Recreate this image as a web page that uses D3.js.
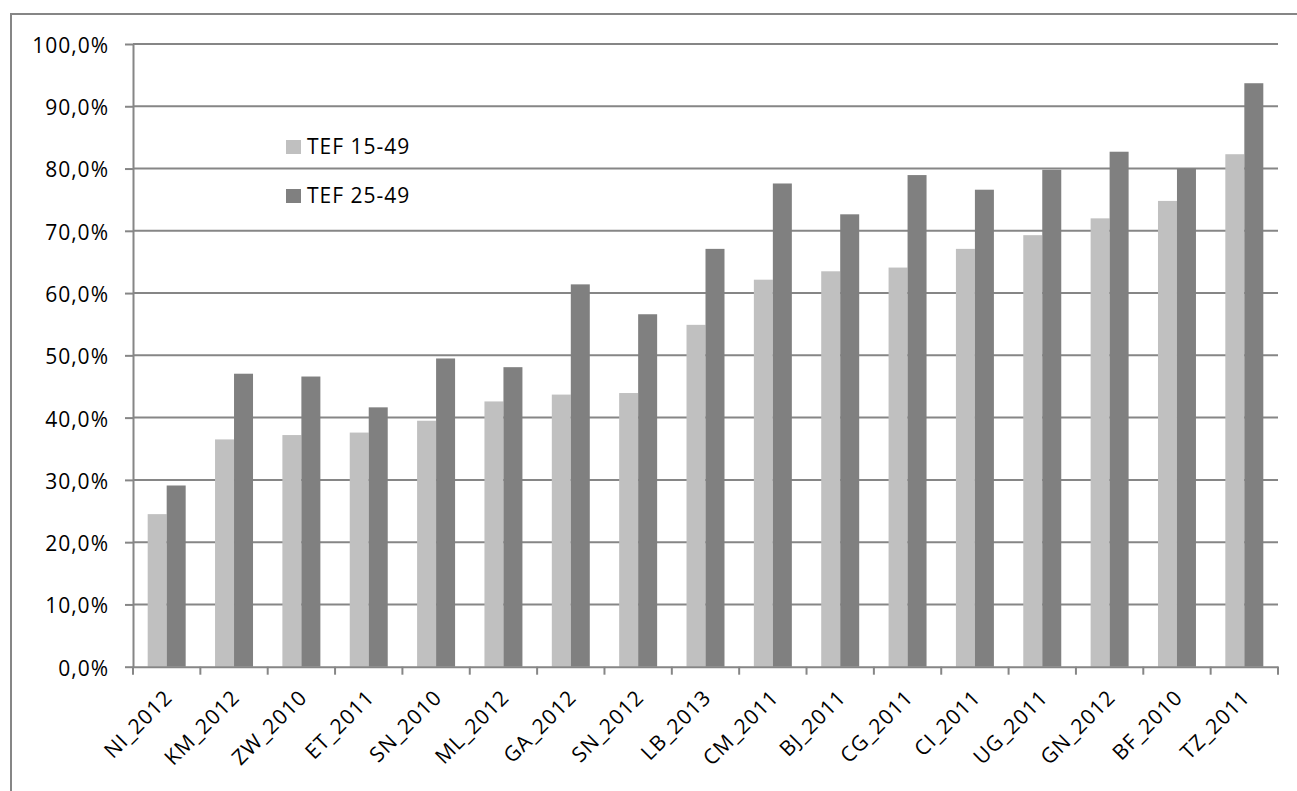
<!DOCTYPE html>
<html>
<head>
<meta charset="utf-8">
<script src="https://cdn.jsdelivr.net/npm/d3@7"></script>
<style>
  html, body { margin: 0; padding: 0; background: #fff; }
  svg text { font-family: 'Open Sans', sans-serif; fill: #000; }
</style>
</head>
<body>
<div id="chart"></div>
<script>
// TEF by survey, two age groups
const categories = ['NI_2012','KM_2012','ZW_2010','ET_2011','SN_2010','ML_2012','GA_2012','SN_2012','LB_2013',
  'CM_2011','BJ_2011','CG_2011','CI_2011','UG_2011','GN_2012','BF_2010','TZ_2011'];
const tef1549 = [24.5, 36.5, 37.2, 37.6, 39.5, 42.6, 43.7, 43.95, 54.9, 62.15, 63.5, 64.1, 67.1, 69.3, 72.0, 74.8, 82.3];
const tef2549 = [29.1, 47.05, 46.6, 41.65, 49.5, 48.1, 61.4, 56.6, 67.1, 77.6, 72.65, 78.95, 76.6, 79.8, 82.7, 80.0, 93.7];
const seriesNames = ['TEF 15-49', 'TEF 25-49'];
const yTicks = [0, 10, 20, 30, 40, 50, 60, 70, 80, 90, 100];

(function() {
  const W = 1297, H = 791;
  const L = 133, R = 1278, T = 44, B = 666.7;
  const C = ['#c0c0c0', '#808080'];
  const lineC = '#868686';
  const fs = '21px', ls = '1px';
  const fmt = v => v.toFixed(1).replace('.', ',') + '%';

  const svg = d3.select('#chart').append('svg').attr('width', W).attr('height', H);

  // chart area border (runs off right/bottom)
  svg.append('rect').attr('x', 11).attr('y', 14).attr('width', 1400).attr('height', 900)
    .attr('fill', 'none').attr('stroke', lineC).attr('stroke-width', 2);

  const x = d3.scaleBand().domain(categories).range([L, R]).paddingInner(0.436).paddingOuter(0.218);
  const xs = d3.scaleBand().domain(seriesNames).range([0, x.bandwidth()]);
  const y = d3.scaleLinear().domain([0, 100]).range([B, T]);

  // gridlines
  svg.append('g').selectAll('line').data(yTicks.filter(d => d > 0)).join('line')
    .attr('x1', L).attr('x2', R).attr('y1', d => y(d)).attr('y2', d => y(d))
    .attr('stroke', lineC).attr('stroke-width', 2);

  // bars
  const rows = categories.map((c, i) => ({ c, v: [tef1549[i], tef2549[i]] }));
  const grp = svg.append('g').selectAll('g').data(rows).join('g')
    .attr('transform', d => `translate(${x(d.c)},0)`);
  grp.selectAll('rect').data(d => d.v.map((v, j) => ({ s: seriesNames[j], v, j }))).join('rect')
    .attr('x', d => xs(d.s)).attr('width', xs.bandwidth())
    .attr('y', d => y(d.v)).attr('height', d => y(0) - y(d.v))
    .attr('fill', d => C[d.j]);

  // y axis
  const yAx = svg.append('g').attr('transform', `translate(${L},0)`)
    .call(d3.axisLeft(y).tickValues(yTicks).tickFormat(fmt).tickSize(8).tickSizeOuter(0).tickPadding(16));
  yAx.select('.domain').attr('stroke', lineC).attr('stroke-width', 2);
  yAx.selectAll('.tick line').attr('stroke', lineC).attr('stroke-width', 2);
  yAx.selectAll('.tick text').style('font-size', fs).style('letter-spacing', ls)
    .attr('fill', '#000').attr('dy', '0.4em');

  // x axis
  const xAx = svg.append('g').attr('transform', `translate(0,${B})`)
    .call(d3.axisBottom(x).tickSize(0).tickSizeOuter(0));
  xAx.select('.domain').attr('stroke', lineC).attr('stroke-width', 2);
  xAx.selectAll('.tick text')
    .style('font-size', fs).style('letter-spacing', ls).attr('fill', '#000')
    .attr('text-anchor', 'end')
    .attr('x', 0).attr('y', 0).attr('dy', 0)
    .attr('transform', 'translate(7,32) rotate(-45)');
  // tick marks at category boundaries
  const step = x.step();
  svg.append('g').selectAll('line').data(d3.range(categories.length + 1)).join('line')
    .attr('x1', i => L + i * step).attr('x2', i => L + i * step)
    .attr('y1', B).attr('y2', B + 8)
    .attr('stroke', lineC).attr('stroke-width', 2);

  // legend
  const leg = svg.append('g').attr('transform', 'translate(286,140)');
  seriesNames.forEach((s, i) => {
    const row = leg.append('g').attr('transform', `translate(0,${i * 49})`);
    row.append('rect').attr('width', 15).attr('height', 14).attr('fill', C[i]);
    row.append('text').attr('x', 21).attr('y', 14).style('font-size', fs).style('letter-spacing', ls).text(s);
  });
})();
</script>
</body>
</html>
